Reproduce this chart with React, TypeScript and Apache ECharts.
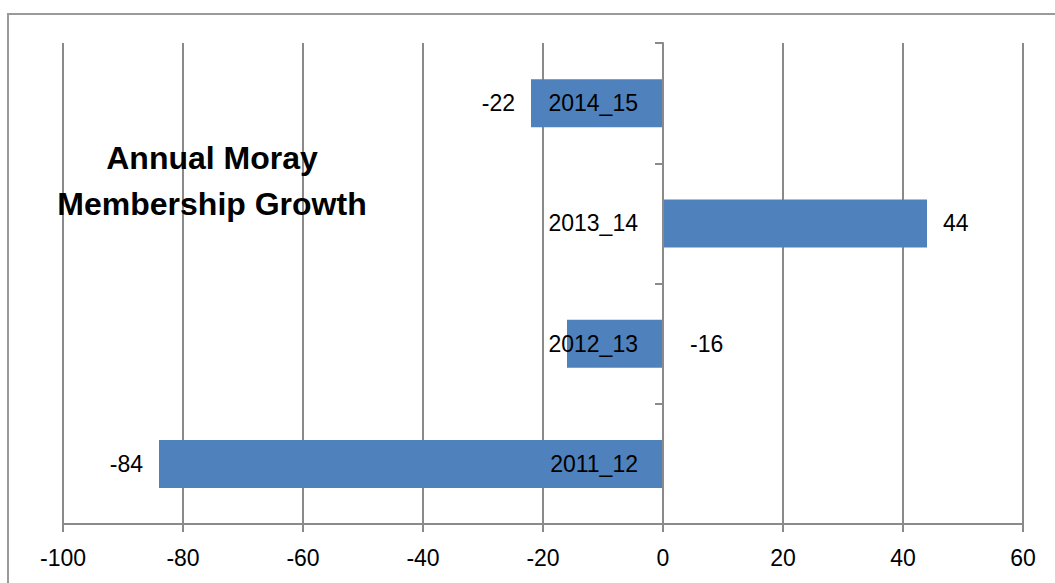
import React, { useEffect, useRef } from "react";
import * as echarts from "echarts";

const categories = ["2011_12", "2012_13", "2013_14", "2014_15"];
const growth = [-84, -16, 44, -22];
const labelSide = ["left", "right", "right", "left"];
const labelGap = [16, 27, 16, 16];
const xMin = -100;
const xMax = 60;
const xStep = 20;
const titleText = "Annual Moray\nMembership Growth";

const FONT = "Liberation Sans, Arial, sans-serif";
const GRID = "#8a8a8a";
const GRID_LEFT = 63;
const PLOT_W = 960;

export default function App() {
  const ref = useRef<HTMLDivElement>(null);
  useEffect(() => {
    if (!ref.current) return;
    const chart = echarts.init(ref.current, null, { renderer: "svg" });
    const zeroOffset = -((0 - xMin) / (xMax - xMin)) * PLOT_W;
    chart.setOption({
      animation: false,
      backgroundColor: "#ffffff",
      title: {
        text: titleText,
        left: 212,
        top: 135,
        padding: 0,
        textAlign: "center",
        textStyle: {
          fontFamily: FONT,
          fontWeight: "bold",
          fontSize: 32,
          lineHeight: 46,
          color: "#000000",
        },
      },
      graphic: [
        {
          type: "rect",
          shape: { x: 8, y: 14, width: 1100, height: 620 },
          style: { fill: "none", stroke: "#9a9a9a", lineWidth: 2 },
          silent: true,
        },
      ],
      grid: {
        left: GRID_LEFT,
        right: 32,
        top: 43,
        bottom: 59,
        containLabel: false,
        outerBoundsMode: "none",
      },
      xAxis: {
        type: "value",
        min: xMin,
        max: xMax,
        interval: xStep,
        axisLine: { show: true, onZero: false, lineStyle: { color: GRID, width: 2 } },
        axisTick: { show: true, length: 8, lineStyle: { color: GRID, width: 2 } },
        splitLine: { show: true, lineStyle: { color: GRID, width: 2 } },
        axisLabel: { fontFamily: FONT, fontSize: 23, color: "#000000", margin: 22 },
      },
      yAxis: {
        type: "category",
        data: categories,
        z: 5,
        position: "left",
        offset: zeroOffset,
        axisLine: { show: true, onZero: false, lineStyle: { color: GRID, width: 2 } },
        axisTick: { show: true, length: 8, lineStyle: { color: GRID, width: 2 } },
        splitLine: { show: false },
        axisLabel: { fontFamily: FONT, fontSize: 23, color: "#000000", margin: 25 },
      },
      series: [
        {
          type: "bar",
          barWidth: 48,
          itemStyle: { color: "#4F81BD" },
          data: growth.map((v, i) => ({
            value: v,
            label: {
              show: true,
              position: labelSide[i],
              distance: labelGap[i],
              fontFamily: FONT,
              fontSize: 23,
              color: "#000000",
            },
          })),
        },
      ],
    });
    return () => chart.dispose();
  }, []);
  return (
    <div
      ref={ref}
      style={{ position: "absolute", left: 0, top: 0, width: 1055, height: 583 }}
    />
  );
}
